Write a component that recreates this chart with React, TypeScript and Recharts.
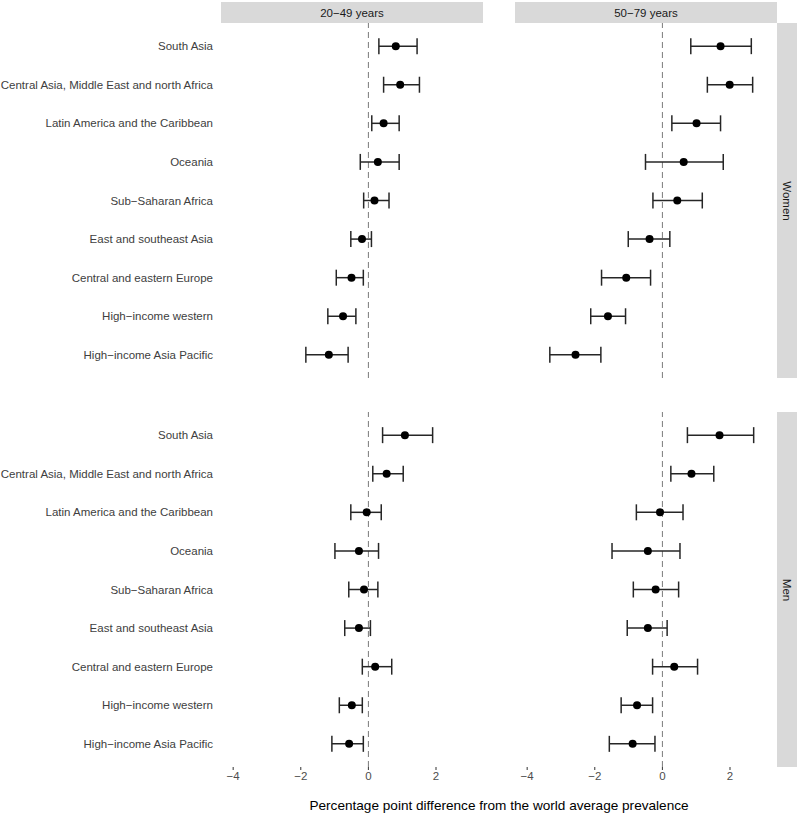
import React from "react";
import { ScatterChart, Scatter, XAxis, YAxis, ErrorBar, ReferenceLine } from "recharts";

const regions = [
  "South Asia",
  "Central Asia, Middle East and north Africa",
  "Latin America and the Caribbean",
  "Oceania",
  "Sub\u2212Saharan Africa",
  "East and southeast Asia",
  "Central and eastern Europe",
  "High\u2212income western",
  "High\u2212income Asia Pacific",
];

const ageGroups = ["20\u221249 years", "50\u221279 years"];
const sexes = ["Women", "Men"];
const xTicks = [-4, -2, 0, 2];
const xTitle = "Percentage point difference from the world average prevalence";

// Women 20-49
const women2049Est = [0.81, 0.94, 0.45, 0.28, 0.18, -0.19, -0.5, -0.75, -1.17];
const women2049Low = [0.31, 0.45, 0.1, -0.24, -0.14, -0.52, -0.95, -1.2, -1.85];
const women2049High = [1.44, 1.51, 0.91, 0.91, 0.61, 0.09, -0.15, -0.37, -0.6];
// Women 50-79
const women5079Est = [1.72, 1.99, 1.01, 0.63, 0.44, -0.38, -1.07, -1.61, -2.57];
const women5079Low = [0.84, 1.33, 0.28, -0.5, -0.28, -1.01, -1.8, -2.12, -3.33];
const women5079High = [2.63, 2.67, 1.72, 1.8, 1.18, 0.22, -0.35, -1.09, -1.82];
// Men 20-49
const men2049Est = [1.08, 0.54, -0.05, -0.28, -0.13, -0.28, 0.2, -0.49, -0.57];
const men2049Low = [0.42, 0.13, -0.52, -0.99, -0.58, -0.7, -0.18, -0.86, -1.08];
const men2049High = [1.9, 1.03, 0.38, 0.3, 0.28, 0.06, 0.69, -0.18, -0.15];
// Men 50-79
const men5079Est = [1.69, 0.86, -0.07, -0.43, -0.2, -0.43, 0.35, -0.75, -0.88];
const men5079Low = [0.74, 0.25, -0.77, -1.49, -0.86, -1.04, -0.29, -1.22, -1.57];
const men5079High = [2.7, 1.52, 0.61, 0.52, 0.48, 0.14, 1.04, -0.29, -0.22];

const build = (est: number[], lo: number[], hi: number[]) =>
  regions.map((r, i) => ({
    region: r,
    pos: i + 1,
    est: est[i],
    err: [est[i] - lo[i], hi[i] - est[i]],
  }));

const FONT = '"Liberation Sans", Arial, Helvetica, sans-serif';
const FS = 11.5;
const X_DOMAIN: [number, number] = [-4.36, 3.39];
const PANEL_H = 355;
const AXIS_H = 22;
const LABEL_W = 221;
const PANEL_W = 262;

const fmt = (v: number) => (v < 0 ? "\u2212" + Math.abs(v) : String(v));

const Dot = (props: any) => {
  const { cx, cy } = props;
  if (cx == null || cy == null) return null;
  return <circle cx={cx} cy={cy} r={4} fill="#000000" />;
};

const RegionTick = (props: any) => {
  const { x, y, payload } = props;
  const label = regions[(payload?.value ?? 0) - 1] ?? "";
  return (
    <text x={x} y={y} dy="0.35em" textAnchor="end" fill="#404040" fontSize={FS} fontFamily={FONT}>
      {label}
    </text>
  );
};

type PanelProps = {
  data: any[];
  showY: boolean;
  showX: boolean;
};

const Panel = ({ data, showY, showX }: PanelProps) => {
  const width = (showY ? LABEL_W : 0) + PANEL_W;
  const height = PANEL_H + (showX ? AXIS_H : 0);
  return (
    <ScatterChart width={width} height={height} margin={{ top: 0, right: 0, bottom: 0, left: 0 }}>
      <XAxis
        type="number"
        dataKey="est"
        domain={X_DOMAIN}
        allowDataOverflow
        ticks={xTicks}
        tickFormatter={fmt}
        hide={!showX}
        height={showX ? AXIS_H : 0}
        axisLine={false}
        tickLine={{ stroke: "#333333", strokeWidth: 1 }}
        tickSize={3}
        tickMargin={2}
        tick={{ fill: "#4D4D4D", fontSize: FS, fontFamily: FONT }}
      />
      <YAxis
        type="number"
        dataKey="pos"
        domain={[0.4, 9.6]}
        allowDataOverflow
        reversed
        ticks={[1, 2, 3, 4, 5, 6, 7, 8, 9]}
        hide={!showY}
        width={showY ? LABEL_W : 0}
        axisLine={false}
        tickLine={false}
        tickSize={6}
        tickMargin={2}
        interval={0}
        tick={<RegionTick />}
      />
      <ReferenceLine x={0} stroke="#7A7A7A" strokeWidth={1} strokeDasharray="6 4" />
      <Scatter data={data} shape={<Dot />} isAnimationActive={false}>
        <ErrorBar dataKey="err" direction="x" width={8} stroke="#262626" strokeWidth={1.5} />
      </Scatter>
    </ScatterChart>
  );
};

const stripTop: React.CSSProperties = {
  position: "absolute",
  top: 2,
  height: 21,
  width: PANEL_W,
  background: "#D9D9D9",
  color: "#1A1A1A",
  fontSize: FS,
  fontFamily: FONT,
  display: "flex",
  alignItems: "center",
  justifyContent: "center",
};

const stripRight: React.CSSProperties = {
  position: "absolute",
  left: 777,
  width: 20,
  height: PANEL_H,
  background: "#D9D9D9",
  color: "#1A1A1A",
  fontSize: FS,
  fontFamily: FONT,
  display: "flex",
  alignItems: "center",
  justifyContent: "center",
};

export default function App() {
  const wTop = 23;
  const mTop = 412;
  return (
    <div style={{ position: "absolute", left: 0, top: 0, width: 800, height: 817, background: "#fff", fontFamily: FONT }}>
      <div style={{ ...stripTop, left: LABEL_W }}>{ageGroups[0]}</div>
      <div style={{ ...stripTop, left: 515 }}>{ageGroups[1]}</div>
      <div style={{ ...stripRight, top: wTop }}>
        <span style={{ transform: "rotate(90deg)", whiteSpace: "nowrap" }}>{sexes[0]}</span>
      </div>
      <div style={{ ...stripRight, top: mTop }}>
        <span style={{ transform: "rotate(90deg)", whiteSpace: "nowrap" }}>{sexes[1]}</span>
      </div>

      <div style={{ position: "absolute", left: 0, top: wTop }}>
        <Panel data={build(women2049Est, women2049Low, women2049High)} showY showX={false} />
      </div>
      <div style={{ position: "absolute", left: 515, top: wTop }}>
        <Panel data={build(women5079Est, women5079Low, women5079High)} showY={false} showX={false} />
      </div>
      <div style={{ position: "absolute", left: 0, top: mTop }}>
        <Panel data={build(men2049Est, men2049Low, men2049High)} showY showX />
      </div>
      <div style={{ position: "absolute", left: 515, top: mTop }}>
        <Panel data={build(men5079Est, men5079Low, men5079High)} showY={false} showX />
      </div>

      <div
        style={{
          position: "absolute",
          left: LABEL_W,
          width: 777 - LABEL_W,
          top: 798,
          textAlign: "center",
          fontSize: 13.6,
          color: "#000",
          fontFamily: FONT,
        }}
      >
        {xTitle}
      </div>
    </div>
  );
}
